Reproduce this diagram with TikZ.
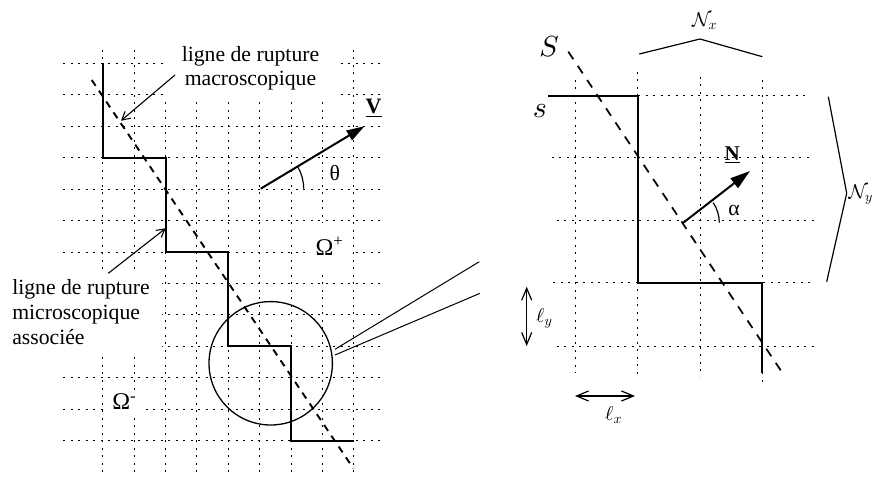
\documentclass[tikz,border=0pt]{standalone}
\usepackage{fontspec}
\setmainfont{Liberation Serif}
\DeclareFontShape{OML}{cmm}{m}{it}{<->cmmi10}{}
\DeclareFontShape{OMS}{cmsy}{m}{n}{<->cmsy10}{}
\DeclareFontShape{OT1}{cmr}{m}{n}{<->cmr10}{}
\usetikzlibrary{arrows.meta}
\begin{document}
\begin{tikzpicture}[x=1pt,y=-1pt,
  gridline/.style={line width=0.9pt, dash pattern=on 2pt off 5.5pt},
  stair/.style={line width=2pt, line join=miter},
  macro/.style={line width=1.9pt, dash pattern=on 7pt off 6pt},
  lab/.style={font=\fontsize{21.7}{25}\selectfont, inner sep=0pt},
  mask/.style={fill=white},
  pointer/.style={line width=1.1pt, -{Straight Barb[length=8pt,width=9pt]}},
  vec/.style={line width=2pt, -{Triangle[length=18pt,width=11pt]}},
  thinline/.style={line width=1.2pt},
  dim/.style={line width=1.2pt, {Straight Barb[length=12pt,width=10pt]}-{Straight Barb[length=12pt,width=10pt]}},
  mlab/.style={inner sep=0pt, anchor=base west},
]
\useasboundingbox (0,0) rectangle (881,478);

% ---- left grid ----
\foreach \i in {0,...,8} { \draw[gridline] ({102.7+31.4*\i},50) -- ({102.7+31.4*\i},477); }
\foreach \j in {0,...,12} { \draw[gridline] (63,{63.3+31.45*\j}) -- (383,{63.3+31.45*\j}); }

% ---- right grid ----
\draw[gridline] (575,80) -- (575,373);
\draw[gridline] (637.7,71.7) -- (637.7,374);
\draw[gridline] (700,76.7) -- (700,376.7);
\draw[gridline] (762.3,80) -- (762.3,381.7);
\draw[gridline] (548,95.7) -- (808,95.7);
\draw[gridline] (551.7,157.3) -- (811.7,157.3);
\draw[gridline] (556.7,220) -- (816.7,220);
\draw[gridline] (553.3,282.7) -- (815,282.7);
\draw[gridline] (556.7,346) -- (816.7,346);

% ---- labels (masking the grid) ----
\node[lab, mask, align=center, font=\fontsize{21.7}{23.5}\selectfont, inner xsep=18pt, inner ysep=11pt] (macrolab) at (250.5,68.3) {ligne de rupture\\macroscopique};
\node[lab, mask, align=left, inner xsep=12pt, inner ysep=7pt] (microlab) at (81,312.3) {ligne de rupture\\microscopique\\associée};
\node[mask, font=\fontsize{24}{24}\selectfont, inner xsep=8pt, inner ysep=14pt] (omplus) at (329.5,246.5) {Ω\textsuperscript{+}};
\node[mask, font=\fontsize{24}{24}\selectfont, inner sep=4pt] (omminus) at (124.3,401.9) {Ω\textsuperscript{-}};

% ---- left staircase and macroscopic line ----
\coordinate (a0) at (102.7,63.3);
\coordinate (a1) at (165.5,157.65);
\coordinate (a2) at (228.3,252.0);
\coordinate (a3) at (291.1,346.35);
\coordinate (a4) at (353.9,440.7);
\draw[stair] (a0) |- (a1) |- (a2) |- (a3) |- (a4);
\coordinate (d0) at (91.7,80);
\coordinate (d1) at (353.3,468.3);
\draw[macro] (d0) -- (d1);

% ---- zoom circle ----
\node[draw, circle, line width=1.3pt, minimum size=123.4pt, inner sep=0pt] (zc) at (270.7,363.3) {};
\coordinate (z1) at (335,349.3);
\coordinate (z2) at (335,355);
\coordinate (e1) at (479.3,261.7);
\coordinate (e2) at (480,293.3);
\draw[line width=1pt] (z1) -- (e1);
\draw[line width=1pt] (z2) -- (e2);

% ---- pointers ----
\coordinate (pms) at (175,75);
\coordinate (pm) at (121,120.7);
\draw[pointer] (pms) -- (pm);
\coordinate (pus) at (108.3,273.3);
\coordinate (pu) at (165.7,228.3);
\draw[pointer] (pus) -- (pu);

% ---- V vector ----
\coordinate (vo) at (260.7,188.7);
\coordinate (vt) at (364.5,126.2);
\draw[vec] (vo) -- (vt);
\draw[thinline] ([xshift=43pt]vo) arc[start angle=0,end angle=-31,radius=43];
\node[lab] (th) at (334.7,172.7) {θ};
\node[mlab, font=\bfseries\fontsize{22}{22}\selectfont] (vl) at (365.5,114) {\underline{V}};

% ---- right panel ----
\coordinate (b0) at (548.3,95.7);
\coordinate (b1) at (637.7,282.7);
\coordinate (b2) at (762.3,373.3);
\draw[stair, line width=1.7pt] (b0) -| (b1) -| (b2);
\coordinate (r0) at (568.3,51.7);
\coordinate (r1) at (782.7,373.3);
\draw[line width=1.7pt, dash pattern=on 9pt off 8pt] (r0) -- (r1);

\coordinate (no) at (683.3,222.7);
\coordinate (nt) at (750,171);
\draw[line width=2pt, -{Triangle[length=20pt,width=12pt]}] (no) -- (nt);
\draw[thinline] ([xshift=36pt]no) arc[start angle=0,end angle=-34,radius=36];
\node[lab] (al) at (734,210) {α};
\node[mlab, font=\bfseries\fontsize{21}{21}\selectfont] (nl) at (724.5,160.7) {\underline{N}};

\node[inner sep=0pt, font=\fontsize{29}{29}\selectfont] (Sl) at (549,46.7) {$S$};
\node[inner sep=0pt, font=\fontsize{30}{30}\selectfont] (sl) at (540,111) {$s$};

\coordinate (bx0) at (639.3,54);
\coordinate (bx1) at (700,39);
\coordinate (bx2) at (762.3,56.7);
\draw[thinline] (bx0) -- (bx1) -- (bx2);
\node[mlab, font=\fontsize{20}{20}\selectfont] (nxl) at (692,26.5) {$\mathcal{N}_x$};
\coordinate (by0) at (828.3,96.7);
\coordinate (by1) at (846.7,193.3);
\coordinate (by2) at (826.7,281.7);
\draw[thinline] (by0) -- (by1) -- (by2);
\node[mlab, font=\fontsize{20}{20}\selectfont] (nyl) at (848.5,198.5) {$\mathcal{N}_y$};

\coordinate (ly0) at (526.7,286.7);
\coordinate (ly1) at (526.7,346);
\draw[dim] (ly0) -- (ly1);
\node[mlab, font=\fontsize{20}{20}\selectfont] (lyl) at (536,323) {$\ell_y$};
\coordinate (lx0) at (575,396);
\coordinate (lx1) at (635,396);
\draw[dim] (lx0) -- (lx1);
\node[mlab, font=\fontsize{20}{20}\selectfont] (lxl) at (605,420.5) {$\ell_x$};
\end{tikzpicture}
\end{document}
